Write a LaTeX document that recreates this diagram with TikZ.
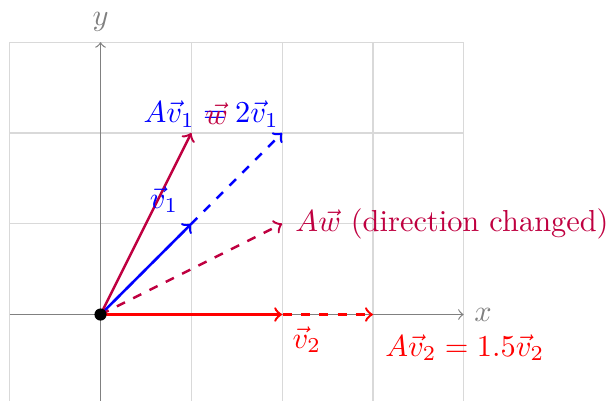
\documentclass[tikz,border=0pt]{standalone}
\begin{document}
\begin{tikzpicture}[
  x=1.05cm, y=1.05cm,
  gridline/.style={gray!30, line width=0.4pt},
  axisline/.style={gray, ->},
  vecsolid/.style={thick, ->},
  vecdash/.style={thick, dashed, ->},
  lab/.style={inner sep=0pt}
]
\useasboundingbox (-1.107,-0.942) rectangle (5.644,3.464);
\draw[gridline, step={(1,1)}] (-1,-1) grid (4,3);
\coordinate (O) at (0,0);
\coordinate (xs) at (-1,0);
\coordinate (xe) at (4,0);
\coordinate (ys) at (0,-1);
\coordinate (ye) at (0,3);
\coordinate (V1) at (1,1);
\coordinate (AV1) at (2,2);
\coordinate (W) at (1,2);
\coordinate (AW) at (2,1);
\coordinate (V2) at (2,0);
\coordinate (AV2) at (3,0);
\draw[axisline] (xs) -- (xe) node[right] (xl) {$x$};
\draw[axisline] (ys) -- (ye) node[above] (yl) {$y$};
% v1
\draw[vecsolid, blue] (O) -- (V1);
\draw[vecdash, blue] (O) -- (AV1);
% w
\draw[vecsolid, purple] (O) -- (W);
\draw[vecdash, purple] (O) -- (AW);
% v2
\draw[vecsolid, red] (O) -- (V2);
\draw[vecdash, red] (O) -- (AV2);
\fill[black] (O) circle (2pt);
% labels
\node[lab, blue, anchor=base east] (lav1) at (1.97,2.11) {$A\vec{v}_1 = 2\vec{v}_1$};
\node[lab, purple, anchor=base] (lw) at (1.28,2.09) {$\vec{w}$};
\node[lab, blue, anchor=base] (lv1) at (0.70,1.17) {$\vec{v}_1$};
\node[lab, purple, anchor=base west] (law) at (2.14,0.91) {$A\vec{w}$ (direction changed)};
\node[lab, red, anchor=base west] (lv2) at (2.11,-0.37) {$\vec{v}_2$};
\node[lab, red, anchor=base west] (lav2) at (3.13,-0.457) {$A\vec{v}_2 = 1.5\vec{v}_2$};
\end{tikzpicture}
\end{document}
